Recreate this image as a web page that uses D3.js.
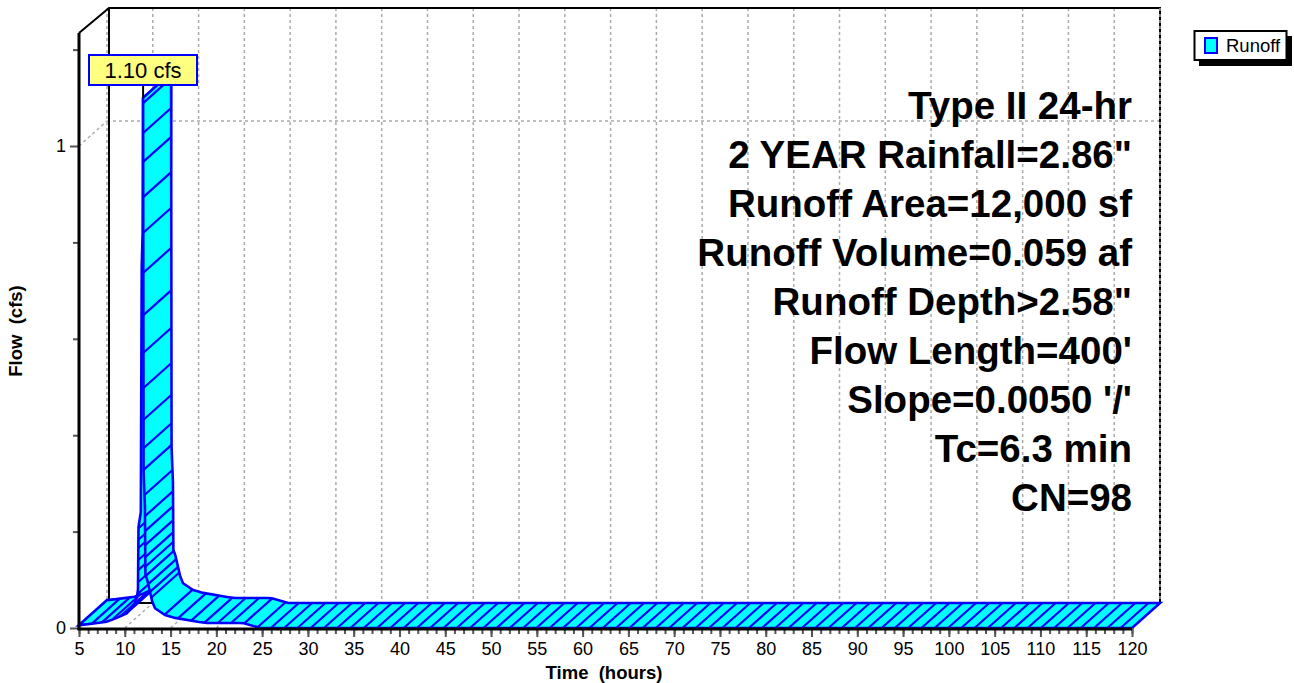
<!DOCTYPE html>
<html>
<head>
<meta charset="utf-8">
<script src="https://d3js.org/d3.v7.min.js"></script>
<style>
body { margin: 0; background: #fff; }
text { font-family: "Liberation Sans", Arial, sans-serif; fill: #000; white-space: pre; }
.tick text { font-size: 18px; font-family: "Liberation Sans", Arial, sans-serif; }
.tick line { stroke: #555; stroke-width: 2; }
.grid { stroke: #aaa; stroke-width: 1.5; stroke-dasharray: 3 3; fill: none; }
</style>
</head>
<body>
<div id="chart"></div>
<script>
var svgWidth = 1294;
var svgHeight = 683;

// hydrograph, split at the peak
var riseTime = [5, 6, 8, 9, 10.2, 11.1, 11.33, 11.44, 11.5, 11.75, 11.85, 11.95, 12];
var riseFlow = [0.006, 0.008, 0.013, 0.02, 0.03, 0.052, 0.064, 0.08, 0.21, 0.24, 0.75, 0.82, 1.10];
var fallTime = [12, 12.05, 12.2, 12.25, 12.45, 13, 13.3, 14.4, 15.5, 18.1, 19, 22.5, 23, 24.8, 27, 120];
var fallFlow = [1.10, 0.324, 0.25, 0.11, 0.1, 0.055, 0.041, 0.027, 0.021, 0.0125, 0.0104, 0.0104, 0.01, 0, 0, 0];

// hatching positions
var riseHatchTime = [6.4, 7.5, 8.6, 9.5, 10.3, 10.9];
var riseHatchFlow = [0.07, 0.095, 0.12, 0.141, 0.166, 0.183, 0.207];
var fallHatchFlow = [1.089, 1.027, 0.967, 0.894, 0.82, 0.737, 0.649, 0.571, 0.498, 0.432, 0.373, 0.328,
  0.276, 0.232, 0.201, 0.172, 0.147, 0.127, 0.108, 0.091, 0.075];
var hatchTime = d3.range(12.9, 120, 1.45);

var xTicks = d3.range(5, 121, 5);
var xMinor = d3.range(5, 121, 1);
var yTicks = [0, 1];
var yMinor = [0.2, 0.4, 0.6, 0.8, 1.2];

var notes = ["Type II 24-hr", "2 YEAR Rainfall=2.86\"", "Runoff Area=12,000 sf", "Runoff Volume=0.059 af",
  "Runoff Depth>2.58\"", "Flow Length=400'", "Slope=0.0050 '/'", "Tc=6.3 min", "CN=98"];
var peakLabel = "1.10 cfs";
var legendLabel = "Runoff";

// depth of the 3d box
var depthX = 28;
var depthY = 25;

var svg = d3.select("#chart").append("svg")
  .attr("width", svgWidth)
  .attr("height", svgHeight)
  .style("display", "block");

var x = d3.scaleLinear().domain([5, 120]).range([79, 1132]);
var y = d3.scaleLinear().domain([0, 1]).range([628, 146]);
var yTop = 33;

// back wall grid
var gridGroup = svg.append("g");
gridGroup.selectAll(".vgrid").data(xTicks).enter().append("line")
  .attr("class", "grid")
  .attr("x1", d => x(d) + depthX).attr("x2", d => x(d) + depthX)
  .attr("y1", yTop - depthY).attr("y2", y(0) - depthY);
gridGroup.selectAll(".floor").data(xTicks).enter().append("line")
  .attr("class", "grid")
  .attr("x1", d => x(d)).attr("x2", d => x(d) + depthX)
  .attr("y1", y(0)).attr("y2", y(0) - depthY);
gridGroup.append("line").attr("class", "grid")
  .attr("x1", x(5)).attr("y1", y(1))
  .attr("x2", x(5) + depthX).attr("y2", y(1) - depthY);
gridGroup.append("line").attr("class", "grid")
  .attr("x1", x(5) + depthX).attr("y1", y(1) - depthY)
  .attr("x2", x(120) + depthX).attr("y2", y(1) - depthY);

// box outline
var boxPath = d3.path();
boxPath.moveTo(x(5), yTop);
boxPath.lineTo(x(5) + 30, yTop - depthY);
boxPath.lineTo(x(120) + depthX, yTop - depthY);
boxPath.lineTo(x(120) + depthX, y(0) - depthY);
boxPath.moveTo(x(5) + 30, yTop - depthY);
boxPath.lineTo(x(5) + 30, y(0) - depthY);
boxPath.lineTo(x(120) + depthX, y(0) - depthY);
svg.append("path").attr("d", boxPath.toString())
  .attr("fill", "none").attr("stroke", "#000").attr("stroke-width", 2);
svg.append("line").attr("class", "grid")
  .attr("x1", x(120) + depthX).attr("x2", x(120) + depthX)
  .attr("y1", yTop - depthY).attr("y2", y(0) - depthY)
  .attr("stroke", "#aaa");

// ribbon, front edge plus the shifted back edge
function ribbon(times, flows) {
  var pts = times.map((t, i) => [x(t), y(flows[i])]);
  var back = times.map((t, i) => [x(t) + depthX, y(flows[i]) - depthY]).reverse();
  return d3.line()(pts.concat(back)) + "Z";
}

function drawHatch(times, flows) {
  svg.append("g").selectAll("line").data(times).enter().append("line")
    .attr("x1", (d, i) => x(d))
    .attr("y1", (d, i) => y(flows(d, i)))
    .attr("x2", (d, i) => x(d) + depthX)
    .attr("y2", (d, i) => y(flows(d, i)) - depthY)
    .attr("stroke", "#0000ff")
    .attr("stroke-width", 2.2);
}

var riseAt = d3.scaleLinear().domain(riseTime).range(riseFlow);
var fallAt = d3.scaleLinear().domain(fallTime).range(fallFlow);
var fallTimeAt = d3.scaleLinear().domain(fallFlow.slice(0, 13)).range(fallTime.slice(0, 13));
var riseTimeAt = d3.scaleLinear().domain(riseFlow).range(riseTime);

// rising part goes first, the falling part paints over it
svg.append("path").attr("d", ribbon(riseTime, riseFlow))
  .attr("fill", "#00ffff").attr("stroke", "#0000ff").attr("stroke-width", 2.6);
drawHatch(riseHatchTime.concat(riseHatchFlow.map(f => riseTimeAt(f))), d => riseAt(d));

svg.append("path").attr("d", ribbon(fallTime, fallFlow))
  .attr("fill", "#00ffff").attr("stroke", "#0000ff").attr("stroke-width", 2.6);
drawHatch(fallHatchFlow.map(f => fallTimeAt(f)).concat(hatchTime), d => fallAt(d));

// axes
var minorX = d3.axisBottom(x).tickValues(xMinor).tickSize(6).tickFormat("");
var majorX = d3.axisBottom(x).tickValues(xTicks).tickSize(9).tickPadding(5);
svg.append("g").attr("transform", `translate(0, ${y(0)})`).call(minorX).call(g => g.select(".domain").remove());
svg.append("g").attr("transform", `translate(0, ${y(0)})`).call(majorX).call(g => g.select(".domain").remove());

var minorY = d3.axisLeft(y).tickValues(yMinor).tickSize(6).tickFormat("");
var majorY = d3.axisLeft(y).tickValues(yTicks).tickSize(9).tickPadding(4).tickFormat(d3.format("d"));
svg.append("g").attr("transform", `translate(${x(5)}, 0)`).call(minorY).call(g => g.select(".domain").remove());
svg.append("g").attr("transform", `translate(${x(5)}, 0)`).call(majorY).call(g => g.select(".domain").remove());

svg.append("line").attr("x1", x(5) - 1.5).attr("x2", x(120)).attr("y1", y(0) + 1).attr("y2", y(0) + 1)
  .attr("stroke", "#000").attr("stroke-width", 3);
svg.append("line").attr("x1", x(5)).attr("x2", x(5)).attr("y1", yTop).attr("y2", y(0) + 2)
  .attr("stroke", "#000").attr("stroke-width", 3);

// axis titles
svg.append("text").attr("x", 604).attr("y", 679).attr("text-anchor", "middle")
  .style("font-weight", "bold").style("font-size", "18.5px").text("Time  (hours)");
svg.append("text").attr("transform", "translate(22, 331) rotate(-90)").attr("text-anchor", "middle")
  .style("font-weight", "bold").style("font-size", "18.5px").text("Flow  (cfs)");

// notes on the right
svg.append("g").selectAll("text").data(notes).enter().append("text")
  .attr("x", x(120))
  .attr("y", (d, i) => 119 + i * 49)
  .attr("text-anchor", "end")
  .style("font-weight", "bold")
  .style("font-size", "38.5px")
  .text(d => d);

// peak callout
svg.append("line").attr("x1", x(12)).attr("x2", x(12)).attr("y1", 85).attr("y2", y(1.10))
  .attr("stroke", "#000").attr("stroke-width", 2);
svg.append("rect").attr("x", 89).attr("y", 55).attr("width", 108).attr("height", 30)
  .attr("fill", "#ffff80").attr("stroke", "#0000ff").attr("stroke-width", 2);
svg.append("text").attr("x", 143).attr("y", 78).attr("text-anchor", "middle")
  .style("font-size", "22px").text(peakLabel);

// legend
svg.append("rect").attr("x", 1199).attr("y", 36).attr("width", 93).attr("height", 30).attr("fill", "#000");
svg.append("rect").attr("x", 1194.5).attr("y", 31).attr("width", 92).attr("height", 29)
  .attr("fill", "#fff").attr("stroke", "#000").attr("stroke-width", 2);
svg.append("rect").attr("x", 1205).attr("y", 38).attr("width", 12).attr("height", 15)
  .attr("fill", "#00ffff").attr("stroke", "#0000ff").attr("stroke-width", 2);
svg.append("text").attr("x", 1226).attr("y", 52).style("font-size", "18.5px").text(legendLabel);
</script>
</body>
</html>
